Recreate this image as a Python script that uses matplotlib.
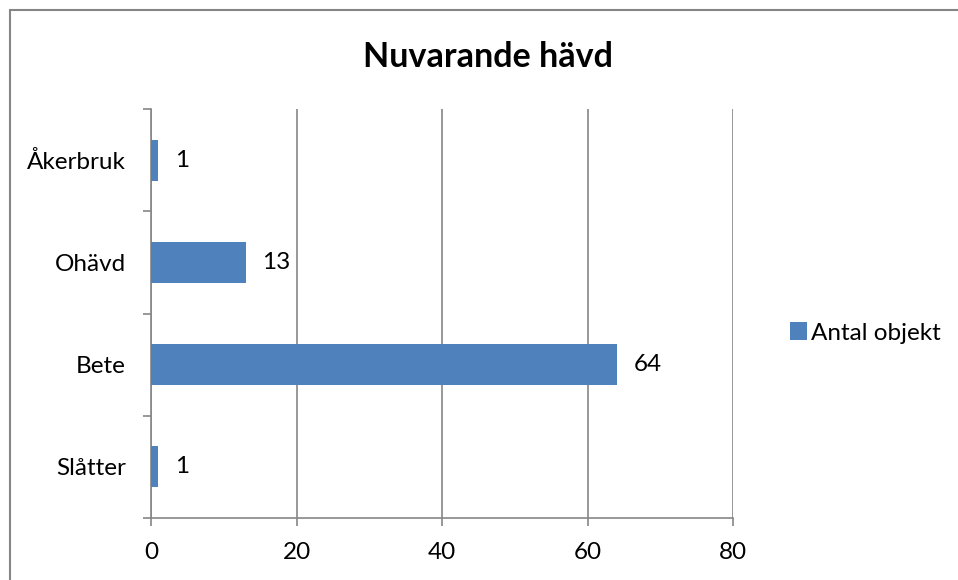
import numpy as np
import matplotlib.pyplot as plt
from matplotlib.patches import Rectangle

plt.rcParams['font.family'] = ['Lato', 'DejaVu Sans']

# Data
categories = ["Slåtter", "Bete", "Ohävd", "Åkerbruk"]
values = [1, 64, 13, 1]
series_name = "Antal objekt"
x_ticks = [0, 20, 40, 60, 80]

bar_color = "#4F81BD"
grid_color = "#868686"

fig = plt.figure(figsize=(9.58, 5.8), dpi=100)
ax = fig.add_axes([151 / 958, 1 - 518 / 580, (733 - 151) / 958, (518 - 109) / 580])

# outer chart frame (cropped at right and bottom)
fig.patches.append(Rectangle((9.5 / 958, -0.1), 1.2, 1.1 - 10.5 / 580,
                             transform=fig.transFigure, fill=False,
                             edgecolor=grid_color, linewidth=1.5))

y = np.arange(len(categories))
bars = ax.barh(y, values, height=0.4, color=bar_color, label=series_name, zorder=3)

for yi, v in zip(y, values):
    ax.annotate(str(v), (v, yi), xytext=(12, 0), textcoords="offset points",
                va="center", ha="left", fontsize=17.5, color="black")

ax.set_xlim(0, 80)
ax.set_ylim(-0.5, len(categories) - 0.5)
ax.set_xticks(x_ticks)
ax.set_xticklabels([str(t) for t in x_ticks], fontsize=17.5)
ax.set_yticks(y)
ax.set_yticklabels(categories, fontsize=17.5)
ax.set_yticks(np.arange(-0.5, len(categories)), minor=True)

ax.tick_params(axis="y", which="major", length=0, pad=18)
ax.tick_params(axis="y", which="minor", length=6, width=1.2, color=grid_color, direction="out")
ax.tick_params(axis="x", which="major", length=6, width=1.2, color=grid_color, pad=11)

ax.grid(axis="x", color=grid_color, linewidth=1.2, zorder=0)
for s in ["top", "right"]:
    ax.spines[s].set_visible(False)
for s in ["left", "bottom"]:
    ax.spines[s].set_color(grid_color)
    ax.spines[s].set_linewidth(1.2)

fig.text(488 / 958, 1 - 57 / 580, "Nuvarande hävd", ha="center", va="center",
         fontsize=24.5, fontweight="bold")

fig.legend(handles=[bars], labels=[series_name], loc="center left",
           bbox_to_anchor=(768 / 958, 1 - 333 / 580), frameon=False,
           fontsize=17.5, handlelength=0.7, handleheight=0.7, handletextpad=0.15)

plt.savefig("out.png", dpi=100)
